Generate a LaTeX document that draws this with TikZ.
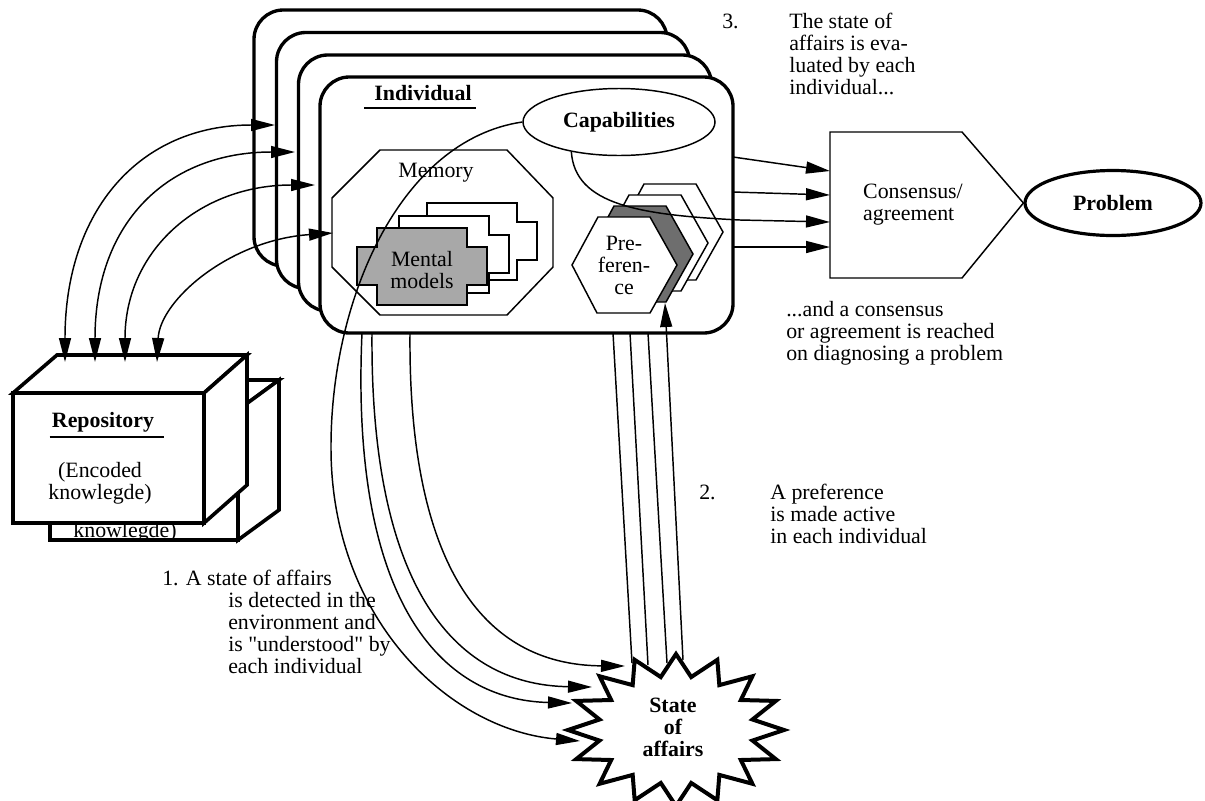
\documentclass[tikz,border=0pt]{standalone}
\usepackage{fontspec}
\setmainfont{Liberation Serif}
\usetikzlibrary{arrows.meta,positioning,calc,shapes.geometric}
\definecolor{modelgray}{HTML}{A8A8A8}
\definecolor{prefgray}{HTML}{6E6E6E}
\newcommand{\pxu}{0.75pt}
\tikzset{
  thinline/.style={line width=1.1pt},
  boldline/.style={line width=2.5pt},
  repoline/.style={line width=2.7pt},
  starline/.style={line width=3pt},
  arrowtip/.style={-{Triangle[length=18pt,width=9pt]}},
  bothtips/.style={{Triangle[length=18pt,width=9pt]}-{Triangle[length=18pt,width=9pt]}},
  indivbox/.style={draw,boldline,rounded corners=22pt,fill=white,
    minimum width=413*\pxu,minimum height=256*\pxu,inner sep=0pt},
  heading/.style={font=\bfseries,inner sep=0pt},
  plaintext/.style={align=left,inner sep=0pt}
}
\begin{document}
\fontsize{16.4pt}{16.5pt}\selectfont
\begin{tikzpicture}[x=\pxu,y=-\pxu]
  \useasboundingbox (0,0) rectangle (1205,800);

  % individuals, back to front
  \foreach \i/\cx/\cy in {1/460.5/138,2/483/160.5,3/505/183,4/526.5/205}
    \node[indivbox] (ind\i) at (\cx,\cy) {};
  \node[heading,anchor=base] (indname) at (423,100) {Individual};
  \draw[thinline] ([xshift=-7.5pt,yshift=-6pt]indname.base west)
    -- ([xshift=3pt,yshift=-6pt]indname.base east);

  % memory
  \draw[thinline] (380,150) -- (507,150) -- (553,198) -- (553,267) -- (507,315)
    -- (380,315) -- (332,267) -- (332,198) -- cycle;
  \coordinate (memw) at (333,233);
  \node[plaintext] (memname) at (436,173) {Memory};
  \foreach \dx/\dy/\shade in {50/-25/white,22/-12/white,0/0/modelgray}
    \draw[thinline,fill=\shade,shift={(\dx,\dy)}] (377,228) -- (467,228) -- (467,247)
      -- (487,247) -- (487,285) -- (467,285) -- (467,305) -- (377,305) -- (377,285)
      -- (357,285) -- (357,247) -- (377,247) -- cycle;
  \node[plaintext,align=center] (models) at (422,270) {Mental\\models};

  % preference
  \foreach \dx/\dy/\shade in {46/-33/white,31/-22/white,16/-11/prefgray,0/0/white}
    \draw[thinline,fill=\shade,shift={(\dx,\dy)}] (572,265) -- (598,217) -- (650,217)
      -- (677,265) -- (650,313) -- (597,313) -- cycle;
  \node[plaintext,align=center] (pref) at (624,265) {Pre-\\feren-\\ce};
  \coordinate (prefdark) at (665,303);

  % capabilities
  \node[draw,thinline,ellipse,fill=white,minimum width=192*\pxu,minimum height=67*\pxu,
    inner sep=0pt,font=\bfseries] (cap) at (619,122) {Capabilities};

  % consensus and problem
  \node[draw,ellipse,line width=2.4pt,minimum width=176*\pxu,minimum height=65*\pxu,
    inner sep=0pt,font=\bfseries] (prob) at (1113,203) {Problem};
  \draw[thinline] (830,132) -- (962,132) -- (prob.west) -- (962,278) -- (830,278) -- cycle;
  \node[plaintext] (cons) at (913,205) {Consensus/\\agreement};
  \coordinate (out1) at (733,157);
  \coordinate (out2) at (733,192);
  \coordinate (out4) at (733,247);
  \coordinate (in1) at (830,171);
  \coordinate (in2) at (830,195);
  \coordinate (in3) at (830,222);
  \coordinate (in4) at (830,247);
  \draw[thinline,arrowtip] (out1) -- (in1);
  \draw[thinline,arrowtip] (out2) -- (in2);
  \draw[thinline,arrowtip] (out4) -- (in4);
  \draw[thinline,arrowtip] (cap.212) .. controls (575,205) and (640,215) .. (740,220) -- (in3);

  % repository
  \draw[repoline,fill=white] (50,410) rectangle (238,540);
  \draw[repoline,fill=white] (50,410) -- (91,380) -- (279,380) -- (238,410) -- cycle;
  \draw[repoline,fill=white] (238,410) -- (279,380) -- (279,510) -- (238,540) -- cycle;
  \node[plaintext,align=center,anchor=north] (repoback) at (125,500) {(Encoded\\knowlegde)};
  \draw[repoline,fill=white] (13,393) rectangle (204,523);
  \draw[repoline,fill=white] (13,393) -- (57,355) -- (247,355) -- (204,393) -- cycle;
  \draw[repoline,fill=white] (204,393) -- (247,355) -- (247,485) -- (204,523) -- cycle;
  \node[heading,anchor=base] (reponame) at (103,427) {Repository};
  \draw[thinline] ([xshift=-1.5pt,yshift=-7.5pt]reponame.base west)
    -- ([xshift=7pt,yshift=-7.5pt]reponame.base east);
  \node[plaintext,align=center,anchor=north] (repotext) at (100,462) {(Encoded\\knowlegde)};

  % repository <-> individuals
  \coordinate (r1) at (65,362);
  \coordinate (r2) at (95,362);
  \coordinate (r3) at (125,362);
  \coordinate (r4) at (157,362);
  \coordinate (t1) at (275,125);
  \coordinate (t2) at (295,152);
  \coordinate (t3) at (315,185);
  \draw[thinline,bothtips] (r1) .. controls (65,210) and (140,125) .. (t1);
  \draw[thinline,bothtips] (r2) .. controls (95,220) and (170,152) .. (t2);
  \draw[thinline,bothtips] (r3) .. controls (125,250) and (200,185) .. (t3);
  \draw[thinline,bothtips] (r4) .. controls (160,300) and (230,240) .. (memw);

  % state of affairs
  \draw[starline,fill=white] plot[samples at={0,...,31},variable=\k]
    ({676+ifthenelse(mod(\k,2)==0,108,78)*cos(11.25*\k)},
     {730+ifthenelse(mod(\k,2)==0,76,54)*sin(11.25*\k)}) -- cycle;
  \node[heading,align=center] (soa) at (673,727) {State\\of\\affairs};
  \coordinate (b1) at (362,333);
  \coordinate (b2) at (372,333);
  \coordinate (b3) at (410,333);
  \coordinate (b4) at (613,333);
  \coordinate (b5) at (630,333);
  \coordinate (b6) at (648,333);
  \coordinate (s1) at (625,666);
  \coordinate (s2) at (592,687);
  \coordinate (s3) at (572,703);
  \coordinate (s4) at (580,741);
  \coordinate (s5) at (632,663);
  \coordinate (s6) at (648,665);
  \coordinate (s7) at (667,663);
  \coordinate (s8) at (683,660);
  \draw[thinline,arrowtip] (cap.west) .. controls (400,140) and (330,300) .. (331,450)
    .. controls (332,620) and (450,730) .. (s4);
  \draw[thinline,arrowtip] (b1) .. controls (350,600) and (440,700) .. (s3);
  \draw[thinline,arrowtip] (b2) .. controls (370,580) and (450,685) .. (s2);
  \draw[thinline,arrowtip] (b3) .. controls (408,560) and (480,665) .. (s1);
  \draw[thinline] (b4) -- (s5);
  \draw[thinline] (b5) -- (s6);
  \draw[thinline] (b6) -- (s7);
  \draw[thinline,arrowtip] (s8) -- (prefdark);

  % steps
  \node[plaintext,anchor=base west] (step1no) at (162,585) {1. A state of affairs};
  \node[plaintext,anchor=north west] (step1) at (228,592)
    {is detected in the\\environment and\\is \textquotedbl understood\textquotedbl{} by\\each individual};
  \node[plaintext,anchor=base west] (step2no) at (699,499) {2.};
  \node[plaintext,anchor=north west] (step2) at (770,484)
    {A preference\\is made active\\in each individual};
  \node[plaintext,anchor=base west] (step3no) at (722,28) {3.};
  \node[plaintext,anchor=north west] (step3) at (789,13)
    {The state of\\affairs is eva-\\luated by each\\individual...};
  \node[plaintext,anchor=north west] (step3b) at (786,301)
    {...and a consensus\\or agreement is reached\\on diagnosing a problem};
\end{tikzpicture}
\end{document}
